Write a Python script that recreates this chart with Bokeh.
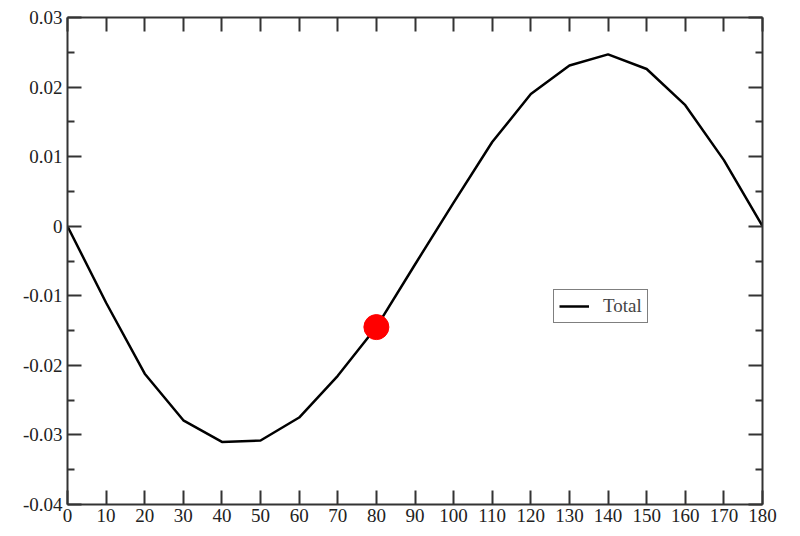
from bokeh.plotting import figure
from bokeh.models import Range1d, FixedTicker, LinearAxis, Legend, LegendItem, CustomJSTickFormatter
from bokeh.embed import file_html
from bokeh.resources import INLINE

# Data
angle = [0, 10, 20, 30, 40, 50, 60, 70, 80, 90, 100, 110, 120, 130, 140, 150, 160, 170, 180]
total = [0.0, -0.0110, -0.0212, -0.0279, -0.0310, -0.0308, -0.0275, -0.0215, -0.0145, -0.0055,
         0.0034, 0.0121, 0.0190, 0.0231, 0.0247, 0.0226, 0.0174, 0.0095, 0.0]
marker_x = [80]
marker_y = [-0.0145]

x_ticks = [0, 10, 20, 30, 40, 50, 60, 70, 80, 90, 100, 110, 120, 130, 140, 150, 160, 170, 180]
y_ticks = [-0.04, -0.03, -0.02, -0.01, 0.0, 0.01, 0.02, 0.03]
y_tick_labels = ["-0.04", "-0.03", "-0.02", "-0.01", "0", "0.01", "0.02", "0.03"]
y_minor = [-0.035, -0.025, -0.015, -0.005, 0.005, 0.015, 0.025]

FONT = "Liberation Serif"
AX_COLOR = "#333333"

p = figure(width=784, height=530, output_backend="svg", toolbar_location=None,
           x_range=Range1d(0, 180), y_range=Range1d(-0.04, 0.03),
           min_border_left=67, min_border_right=22, min_border_top=17, min_border_bottom=26,
           x_axis_location=None, y_axis_location=None)
p.grid.visible = False
p.outline_line_color = None
p.background_fill_color = "white"
p.border_fill_color = "white"

xt = FixedTicker(ticks=x_ticks, minor_ticks=[])
yt = FixedTicker(ticks=y_ticks, minor_ticks=y_minor)
ylab = {t: s for t, s in zip(y_ticks, y_tick_labels)}
blank = CustomJSTickFormatter(code="return ''")

def style(ax, labels=True):
    ax.axis_line_color = AX_COLOR
    ax.axis_line_width = 2
    ax.major_tick_line_color = AX_COLOR
    ax.major_tick_line_width = 2
    ax.minor_tick_line_color = AX_COLOR
    ax.minor_tick_line_width = 2
    ax.major_tick_in = 14
    ax.major_tick_out = 0
    ax.minor_tick_in = 7
    ax.minor_tick_out = 0
    ax.major_label_text_font = FONT
    ax.major_label_text_color = "#222222"
    ax.major_label_text_font_size = "19px"
    ax.major_label_standoff = 5 if labels else 0

bottom = LinearAxis(ticker=xt)
style(bottom)
bottom.major_label_standoff = 4
top = LinearAxis(ticker=xt, formatter=blank)
style(top, labels=False)
left = LinearAxis(ticker=yt, major_label_overrides=ylab)
style(left)
right = LinearAxis(ticker=yt, formatter=blank)
style(right, labels=False)

p.add_layout(bottom, "below")
p.add_layout(top, "above")
p.add_layout(left, "left")
p.add_layout(right, "right")

line = p.line(angle, total, line_color="black", line_width=2.5)
p.scatter(marker_x, marker_y, size=25, fill_color="red", line_color="red")

legend = Legend(items=[LegendItem(label="Total", renderers=[line])],
                location=(486, 181), border_line_color="black", border_line_width=1.5,
                label_text_font=FONT, label_text_font_size="19px",
                glyph_width=30, label_standoff=14, padding=5, margin=0, spacing=0,
                background_fill_alpha=1.0)
p.add_layout(legend, "center")

open("out.html", "w").write(file_html(p, INLINE))
